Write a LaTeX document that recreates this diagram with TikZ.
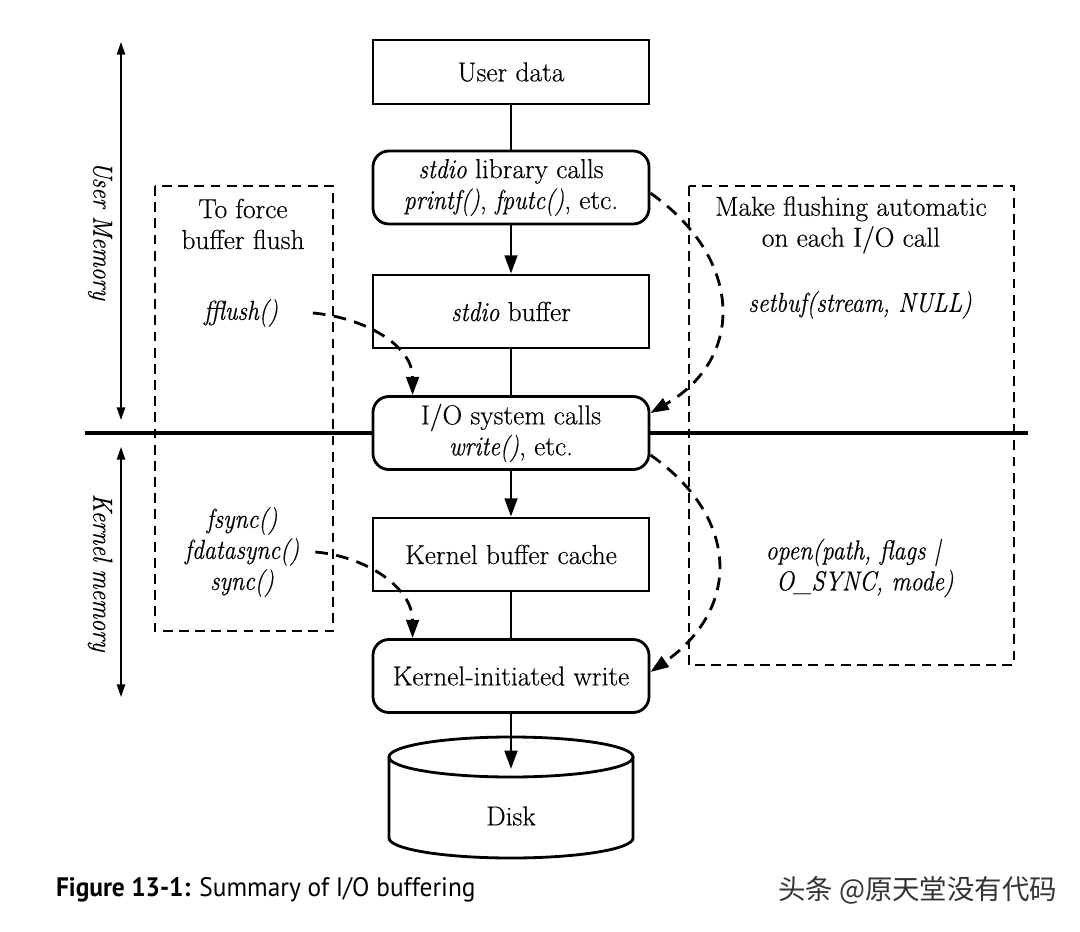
\documentclass[tikz,border=0pt]{standalone}
\usepackage{fontspec}
\setmainfont{Latin Modern Roman}[FakeBold=0.4,ItalicFeatures={FakeStretch=0.87}]
\newfontfamily\capfont[FakeStretch=0.95]{PT Sans}
\newfontfamily\cjkfont{Noto Sans CJK SC}
\usepackage{tikz}
\usetikzlibrary{arrows.meta}

\begin{document}
\begin{tikzpicture}[x=0.025cm,y=0.025cm,line width=2pt,
  font=\fontsize{19.5}{22}\selectfont,
  flowbox/.style={draw,fill=white,minimum width=6.9cm,minimum height=1.825cm,inner sep=0pt},
  callbox/.style={flowbox,rounded corners=0.4cm},
  hintbox/.style={draw,line width=0.9pt,dash pattern=on 7pt off 4.5pt},
  flushto/.style={dash pattern=on 9pt off 6pt,-{Triangle[length=13pt,width=9pt]}},
  flowarrow/.style={-{Triangle[length=13pt,width=9pt]}},
  memspan/.style={line width=1pt,{Triangle[length=9pt,width=6pt]}-{Triangle[length=9pt,width=6pt]}}]

\useasboundingbox (0,0) rectangle (1080,-932);

\draw [hintbox] (155,-186) rectangle (333,-631);
\draw [hintbox] (689,-186) rectangle (1014,-665);

\coordinate (memL) at (85,-433);
\coordinate (memR) at (1028,-433);
\coordinate (umTop) at (121,-42);
\coordinate (umBot) at (121,-420);
\coordinate (kmTop) at (121,-447);
\coordinate (kmBot) at (121,-697);
\coordinate (disktop) at (511,-769);

\node [flowbox,minimum height=1.6cm] (user) at (511,-72) {User data};
\node [callbox,align=center] (stdio) at (511,-187.5) {\textit{stdio} library calls\\\textit{printf()}, \textit{fputc()}, etc.};
\node [flowbox] (sbuf) at (511,-311.5) {\textit{stdio} buffer};
\node [callbox,align=center] (io) at (511,-433) {I/O system calls\\\textit{write()}, etc.};
\node [flowbox] (kcache) at (511,-554.5) {Kernel buffer cache};
\node [callbox] (kwrite) at (511,-676) {Kernel-initiated write};

\draw [line width=3.5pt] (memL) -- (io.west);
\draw [line width=3.5pt] (io.east) -- (memR);

\draw (user) -- (stdio);
\draw [flowarrow] (stdio) -- (sbuf);
\draw (sbuf) -- (io);
\draw [flowarrow] (io) -- (kcache);
\draw (kcache) -- (kwrite);

\draw (389,-757) -- (389,-838) arc (180:360:3.05cm and 0.5cm) -- (633,-757);
\draw (511,-757) ellipse (3.05cm and 0.5cm);
\node (disk) at (511,-816) {Disk};
\draw [flowarrow] (kwrite) -- (disktop);

\draw [memspan] (umTop) -- (umBot);
\draw [memspan] (kmTop) -- (kmBot);
\node [rotate=-90] (umem) at (100,-231) {\textit{User Memory}};
\node [rotate=-90] (kmem) at (100,-573) {\textit{Kernel memory}};

\node [align=center] (force) at (243,-224) {To force\\buffer flush};
\node (ffl) at (241,-313) {\textit{fflush()}};
\node (fsync) at (242,-521) {\textit{fsync()}};
\node (fdsync) at (242,-552) {\textit{fdatasync()}};
\node (sync) at (242,-583) {\textit{sync()}};

\node [align=center] (auto) at (851,-225) {Make flushing automatic\\on each I/O call};
\node (setbuf) at (860,-305) {\textit{setbuf(stream, NULL)}};
\node [align=center] (openf) at (854,-568) {\textit{open(path, flags |}\\\hspace*{0.8em}\textit{O\_SYNC, mode)}};

\draw [flushto] ([xshift=0.72cm]ffl.east) to[out=-5,in=90] ([xshift=1.025cm]io.north west);
\draw [flushto] ([xshift=0.25cm]fdsync.east) to[out=-5,in=90] ([xshift=1.025cm]kwrite.north west);
\draw [flushto] ([yshift=-0.14cm]stdio.east) to[out=-35,in=30,looseness=1.3] ([yshift=0.5cm]io.east);
\draw [flushto] ([yshift=-0.55cm]io.east) to[out=-35,in=35,looseness=1.3] ([yshift=0.1cm]kwrite.east);

\node [anchor=west,font=\capfont\fontsize{19}{22}\selectfont] (caption) at (50,-890) {\textbf{Figure 13-1:} Summary of I/O buffering};
\node [anchor=west,text=black!80,font=\cjkfont\fontsize{19.5}{22}\selectfont] (mark) at (772,-890) {头条 @原天堂没有代码};

\end{tikzpicture}
\end{document}
